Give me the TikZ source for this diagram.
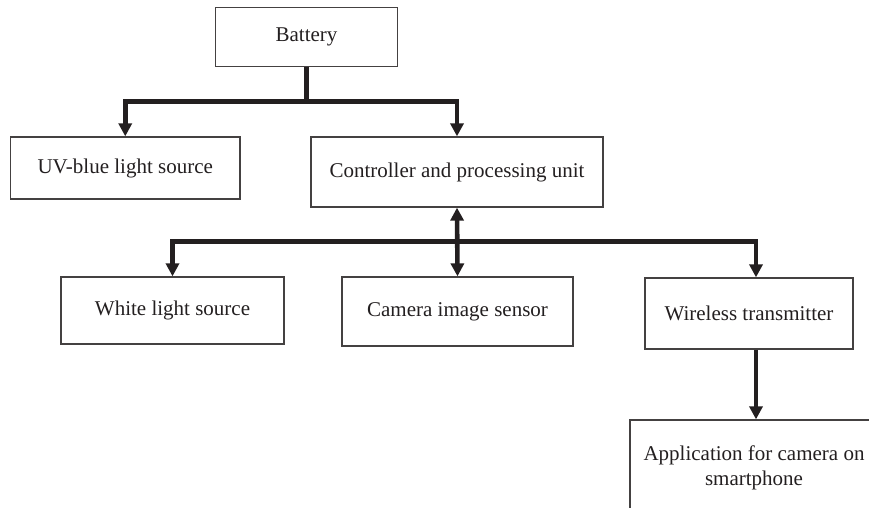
\documentclass[tikz,border=0pt]{standalone}
\usepackage{fontspec}
\setmainfont{Liberation Serif}
\usetikzlibrary{arrows.meta,calc}
\definecolor{ink}{HTML}{231F20}
\tikzset{
  box/.style={draw=ink!85, line width=1.3pt, inner sep=0pt, align=center,
              font=\fontsize{21}{26}\selectfont, text=ink},
  conn/.style={draw=ink, line width=4.6pt, -{Triangle[length=13pt,width=13pt]}},
  conn2/.style={draw=ink, line width=4.6pt, {Triangle[length=13pt,width=13pt]}-{Triangle[length=13pt,width=13pt]}},
  seg/.style={draw=ink, line width=4.6pt}
}
\begin{document}
\begin{tikzpicture}[x=1pt,y=-1pt]
\useasboundingbox (0,0) rectangle (869,508);
\clip (0,0) rectangle (869,508);

\node[box, minimum width=182pt, minimum height=59pt] (bat) at (306.5,37) {Battery};
\node[box, minimum width=229.5pt, minimum height=62pt] (uv) at (125.25,168) {UV-blue light source};
\node[box, minimum width=292pt, minimum height=70pt] (ctrl) at (457,172) {Controller and processing unit};
\node[box, minimum width=223pt, minimum height=67pt] (white) at (172.5,310.5) {White light source};
\node[box, minimum width=231pt, minimum height=69pt] (cam) at (457.5,311.5) {Camera image sensor};
\node[box, minimum width=208pt, minimum height=71pt] (wire) at (749,313.5) {Wireless transmitter};
\node[box, minimum width=248pt, minimum height=95pt] (app) at (754,467.5) {Application for camera on\\[-1pt]smartphone};

\coordinate (j1) at (306.5,101.5);
\coordinate (j2) at (457,241.5);

\draw[seg] (bat.south) -- (j1);
\draw[conn] (j1) -| (uv.north);
\draw[conn] (j1) -| (ctrl.north);

\draw[conn2] (ctrl.south) -- (cam.north);
\draw[conn] (j2) -| (white.north);
\draw[conn] (j2) -| ([xshift=7pt]wire.north);
\draw[conn] ([xshift=7pt]wire.south) -- ([xshift=7pt]wire.south |- app.north);
\end{tikzpicture}
\end{document}
